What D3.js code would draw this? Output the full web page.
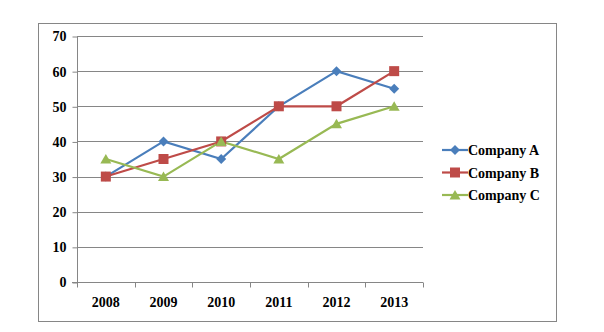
<!DOCTYPE html>
<html><head><meta charset="utf-8">
<script src="https://cdn.jsdelivr.net/npm/d3@7"></script>
<style>body{margin:0;background:#fff}text{font-family:"Liberation Serif","Times New Roman",serif;font-weight:bold;font-size:14px;fill:#000}</style>
</head><body><svg id="c" width="604" height="332"></svg>
<script>
const years = ["2008","2009","2010","2011","2012","2013"];
const companyA = [30,40,35,50,60,55];
const companyB = [30,35,40,50,50,60];
const companyC = [35,30,40,35,45,50];
const seriesNames = ["Company A","Company B","Company C"];
const seriesColors = ["#4A7EBB","#BE4B48","#98B954"];
const yTicks = [0,10,20,30,40,50,60,70];

const series = [companyA,companyB,companyC].map((v,i)=>({name:seriesNames[i],color:seriesColors[i],values:v,shape:i}));
const svg = d3.select("#c");
svg.append("rect").attr("x",38.5).attr("y",23.5).attr("width",518).attr("height",298).attr("fill","#fff").attr("stroke","#868686");

const x = d3.scaleBand().domain(years).range([77,423]);
const y = d3.scaleLinear().domain([0,70]).range([282,36]);

// gridlines
svg.append("g").selectAll("line").data(yTicks.filter(d=>d>0)).join("line")
 .attr("x1",77).attr("x2",423).attr("y1",d=>Math.round(y(d))+0.5).attr("y2",d=>Math.round(y(d))+0.5)
 .attr("stroke","#868686").attr("stroke-width",1);

const ya = svg.append("g").attr("transform","translate(77.5,0.5)").call(d3.axisLeft(y).tickValues(yTicks).tickSize(5).tickPadding(6));
ya.select(".domain").attr("stroke","#868686").attr("d","M0,"+(Math.round(y(70)))+"V"+Math.round(y(0)));
ya.selectAll(".tick line").attr("stroke","#868686");
ya.selectAll("text").attr("font-size",null).attr("font-family",null);

const xa = svg.append("g").attr("transform","translate(0,"+(Math.round(y(0))+0.5)+")");
xa.append("line").attr("x1",72).attr("x2",423).attr("stroke","#868686");
const bounds = years.map(d=>x(d)).concat([x.range()[1]]);
xa.selectAll(".tk").data(bounds).join("line").attr("class","tk")
 .attr("x1",d=>Math.round(d)+0.5).attr("x2",d=>Math.round(d)+0.5).attr("y1",0).attr("y2",5).attr("stroke","#868686");
xa.selectAll("text").data(years).join("text").attr("x",d=>x(d)+x.bandwidth()/2).attr("y",24).attr("text-anchor","middle").text(d=>d);

const cx = d=>x(d)+x.bandwidth()/2;
const line = d3.line().x((d,i)=>cx(years[i])).y(d=>y(d));

function marker(g,shape,color){
  if(shape===0) g.append("path").attr("d","M0,-5L5,0L0,5L-5,0Z").attr("fill",color);
  else if(shape===1) g.append("rect").attr("x",-5).attr("y",-5).attr("width",10).attr("height",10).attr("fill",color);
  else g.append("path").attr("d","M0,-5L5.5,4.5L-5.5,4.5Z").attr("fill",color);
}

series.forEach(s=>{
  svg.append("path").datum(s.values).attr("d",line).attr("fill","none").attr("stroke",s.color).attr("stroke-width",2.2);
});
series.forEach(s=>{
  s.values.forEach((v,i)=>{
    const g = svg.append("g").attr("transform","translate("+cx(years[i])+","+y(v)+")");
    marker(g,s.shape,s.color);
  });
});

// legend
const lg = svg.append("g");
series.forEach((s,i)=>{
  const yy = 150 + i*22.5;
  lg.append("line").attr("x1",442).attr("x2",468).attr("y1",yy).attr("y2",yy).attr("stroke",s.color).attr("stroke-width",2.2);
  const g = lg.append("g").attr("transform","translate(455,"+yy+")");
  marker(g,s.shape,s.color);
  lg.append("text").attr("x",468).attr("y",yy+5).text(s.name);
});
</script></body></html>
